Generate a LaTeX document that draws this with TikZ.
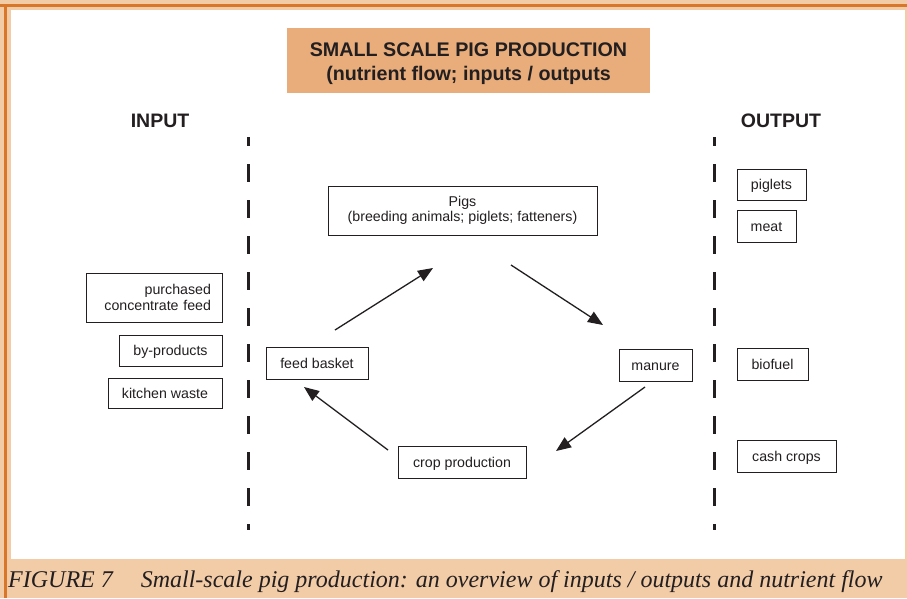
\documentclass[tikz,border=0pt]{standalone}
\usepackage{fontspec}
\setmainfont{Liberation Serif}
\setsansfont{Liberation Sans}
\usetikzlibrary{arrows.meta}
\definecolor{frameorange}{HTML}{D8772A}
\definecolor{peach}{HTML}{F2CBA7}
\definecolor{titlefill}{HTML}{E8AD7B}
\definecolor{ink}{HTML}{231F20}
\begin{document}
\begin{tikzpicture}[x=1pt,y=-1pt,
  box/.style={draw=ink,line width=0.9pt,inner sep=0pt,font=\sffamily\fontsize{14.2}{15.5}\selectfont,text=ink},
  onebox/.style={box,text height=11pt,text depth=1pt},
  flow/.style={draw=ink,line width=1.3pt,-{Triangle[length=15pt,width=12pt]}},
  divider/.style={draw=ink,line width=3pt,dash pattern=on 18pt off 18pt,dash phase=9pt},
  headtxt/.style={font=\sffamily\bfseries\fontsize{19.5}{22}\selectfont,text=ink}]
\useasboundingbox (0,0) rectangle (907,598);
% frame
\fill[peach] (0,0) rectangle (907,598);
\fill[white] (11,10) rectangle (905,559);
\fill[frameorange] (0,3.5) rectangle (907,6.5);
\fill[frameorange] (4,3.5) rectangle (7,598);
% title
\node[fill=titlefill,minimum width=363pt,minimum height=65pt,inner sep=0pt] (titlebox) at (468.5,60.5) {};
\node[inner sep=0pt,align=center,font=\sffamily\bfseries\fontsize{19.7}{24}\selectfont,text=ink] (title) at (468.5,64)
  {SMALL SCALE PIG PRODUCTION\\(nutrient flow; inputs / outputs};
\node[headtxt] (input) at (160,121) {INPUT};
\node[headtxt] (output) at (781,121) {OUTPUT};
% dividers
\coordinate (dl1) at (248,137); \coordinate (dl2) at (248,530);
\coordinate (dr1) at (714,137); \coordinate (dr2) at (714,530);
\draw[divider] (dl1) -- (dl2);
\draw[divider] (dr1) -- (dr2);
% central boxes
\node[box,minimum width=269pt,minimum height=49pt,align=center] (pigs) at (462.5,210.5)
  {Pigs\\(breeding animals; piglets; fatteners)};
\node[onebox,minimum width=102pt,minimum height=32pt] (feed) at (317,363) {feed basket};
\node[onebox,minimum width=73pt,minimum height=32pt] (manure) at (655.5,365) {manure};
\node[onebox,minimum width=128pt,minimum height=32pt] (crop) at (462,462) {crop production};
% inputs
\node[box,minimum width=136pt,minimum height=49pt,align=right,text width=114pt] (purch) at (154,297.5)
  {purchased\\concentrate feed};
\node[onebox,minimum width=103pt,minimum height=31pt] (byp) at (170.5,350.5) {by-products};
\node[onebox,minimum width=114pt,minimum height=30pt] (kitchen) at (165,393) {kitchen waste};
% outputs
\node[onebox,minimum width=69pt,minimum height=31pt] (piglets) at (771.5,184.5) {piglets\hspace{3pt}};
\node[onebox,minimum width=59pt,minimum height=32pt] (meat) at (766.5,226) {meat\hspace{3pt}};
\node[onebox,minimum width=71pt,minimum height=32pt] (biofuel) at (772.5,364) {biofuel\hspace{3pt}};
\node[onebox,minimum width=99pt,minimum height=32pt] (cash) at (786.5,456) {cash crops\hspace{3pt}};
% flows
\coordinate (a1s) at (335,330); \coordinate (a1e) at (433,268);
\coordinate (a2s) at (511,265); \coordinate (a2e) at (603,325);
\coordinate (a3s) at (645,387); \coordinate (a3e) at (556,451);
\coordinate (a4s) at (388,450); \coordinate (a4e) at (304,387);
\draw[flow] (a1s) -- (a1e);
\draw[flow] (a2s) -- (a2e);
\draw[flow] (a3s) -- (a3e);
\draw[flow] (a4s) -- (a4e);
% caption
\node[anchor=base west,inner sep=0pt,font=\itshape\fontsize{24}{26}\selectfont,text=ink] (caption) at (8,587)
  {FIGURE 7\hspace{28pt}Small-scale pig production: an overview of inputs / outputs and nutrient flow};
\end{tikzpicture}
\end{document}
